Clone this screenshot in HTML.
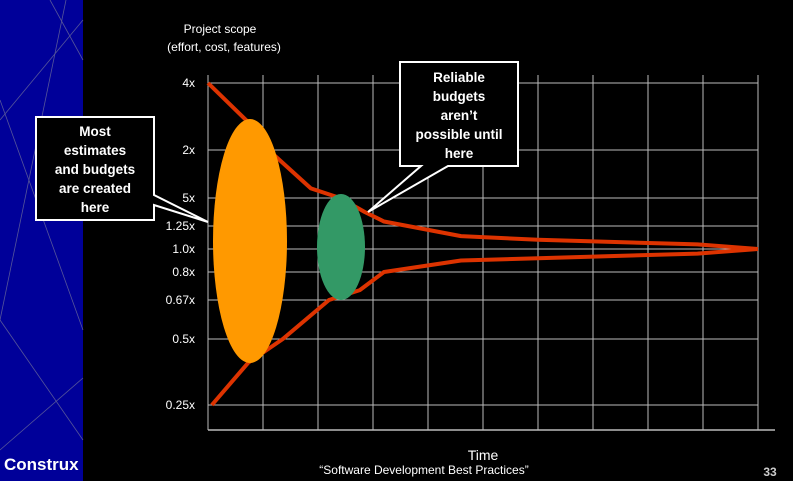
<!DOCTYPE html>
<html><head><meta charset="utf-8"><style>
body{margin:0;background:#000;width:793px;height:481px;overflow:hidden;font-family:"Liberation Sans",sans-serif}
svg{display:block}
</style></head><body>
<svg id="c" width="793" height="481">
<rect x="0" y="0" width="83" height="481" fill="#000099"/>
<g stroke="#7a7a9a" stroke-width="0.8" opacity="0.7">
<line x1="0" y1="120" x2="83" y2="20"/><line x1="0" y1="100" x2="83" y2="330"/><line x1="66" y1="0" x2="0" y2="320"/>
<line x1="0" y1="320" x2="83" y2="440"/><line x1="0" y1="450" x2="83" y2="378"/><line x1="50" y1="0" x2="83" y2="60"/>
</g>
<text x="4" y="470" fill="#fff" font-size="17" font-weight="bold">Construx</text>
<text x="220" y="33" fill="#fff" font-size="12" text-anchor="middle">Project scope</text>
<text x="224" y="51" fill="#fff" font-size="12" text-anchor="middle">(effort, cost, features)</text>
<g id="grid"></g><g id="yt"></g><g id="lines"></g><g id="marks"></g>
<text x="483" y="460" fill="#fff" font-size="14" text-anchor="middle">Time</text>
<text x="424" y="474" fill="#fff" font-size="12" text-anchor="middle">“Software Development Best Practices”</text>
<text x="770" y="476" fill="#ccc" font-size="12" font-weight="bold" text-anchor="middle">33</text>
<g>
<polygon points="36,117 154,117 154,195 208,222 154,205 154,220 36,220" fill="#000" stroke="#fff" stroke-width="2"/>
<text fill="#fff" font-size="13.5" font-weight="bold" text-anchor="middle"><tspan x="95" y="136">Most</tspan><tspan x="95" y="155">estimates</tspan><tspan x="95" y="174">and budgets</tspan><tspan x="95" y="193">are created</tspan><tspan x="95" y="212">here</tspan></text>
</g>
<g>
<polygon points="400,62 518,62 518,166 448,166 368,212 421,166 400,166" fill="#000" stroke="#fff" stroke-width="2"/>
<text fill="#fff" font-size="13.5" font-weight="bold" text-anchor="middle"><tspan x="459" y="82">Reliable</tspan><tspan x="459" y="101">budgets</tspan><tspan x="459" y="120">aren’t</tspan><tspan x="459" y="139">possible until</tspan><tspan x="459" y="158">here</tspan></text>
</g>
</svg>
<script>
const yTicks=[0.25,0.5,0.67,0.8,1.0,1.25,1.5,2,4];
const yLabels=["0.25x","0.5x","0.67x","0.8x","1.0x","1.25x","5x","2x","4x"];
const timeTicks=[0,1,2,3,4,5,6,7,8,9,10];
const upperT=[0,0.75,1.1,1.87,2.4,2.85,3.2,4.6,6,8.9,10];
const upperV=[4,2.8,2,1.6,1.5,1.375,1.29,1.14,1.1,1.05,1.0];
const lowerT=[0.07,0.73,1.36,2.2,2.76,3.2,4.6,6,8.9,10];
const lowerV=[0.25,0.41,0.5,0.67,0.716,0.8,0.9,0.92,0.96,1.0];
const tickPx=[405,339,300,272,249,226,198,150,83];
const X0=208,X1=758,YB=430;
function xs(t){return X0+(X1-X0)*t/10;}
function ys(v){for(let i=0;i<yTicks.length-1;i++){if(v<=yTicks[i+1]){const f=(v-yTicks[i])/(yTicks[i+1]-yTicks[i]);return tickPx[i]+f*(tickPx[i+1]-tickPx[i]);}}return tickPx[tickPx.length-1];}
const NS="http://www.w3.org/2000/svg";
function mk(tag,at,parent){const e=document.createElementNS(NS,tag);for(const k in at)e.setAttribute(k,at[k]);parent.appendChild(e);return e;}
const grid=document.getElementById('grid'),yt=document.getElementById('yt'),marks=document.getElementById('marks'),lines=document.getElementById('lines');
yTicks.forEach((v,i)=>{const l=mk('line',{x1:X0,x2:X1,y1:ys(v),y2:ys(v),stroke:'#bbb','stroke-width':1},grid);


const t=mk('text',{x:195,y:ys(v)+4,fill:'#fff','font-size':12,'text-anchor':'end'},yt);t.textContent=yLabels[i];

});
timeTicks.forEach(t=>{const l=mk('line',{x1:xs(t),x2:xs(t),y1:75,y2:YB,stroke:'#bbb','stroke-width':1},grid);

});
const ax=mk('line',{x1:X0,x2:775,y1:YB,y2:YB,stroke:'#bbb','stroke-width':1.5},grid);


const up=mk('polyline',{points:upperT.map((t,i)=>xs(t)+','+ys(upperV[i])).join(' '),fill:'none',stroke:'#dd3300','stroke-width':4,'stroke-linejoin':'round'},lines);


const lo=mk('polyline',{points:lowerT.map((t,i)=>xs(t)+','+ys(lowerV[i])).join(' '),fill:'none',stroke:'#dd3300','stroke-width':4,'stroke-linejoin':'round'},lines);


const e1=mk('ellipse',{cx:250,cy:241,rx:37,ry:122,fill:'#ff9900'},marks);


const e2=mk('ellipse',{cx:341,cy:247,rx:24,ry:53,fill:'#339966'},marks);


</script>
</body></html>
